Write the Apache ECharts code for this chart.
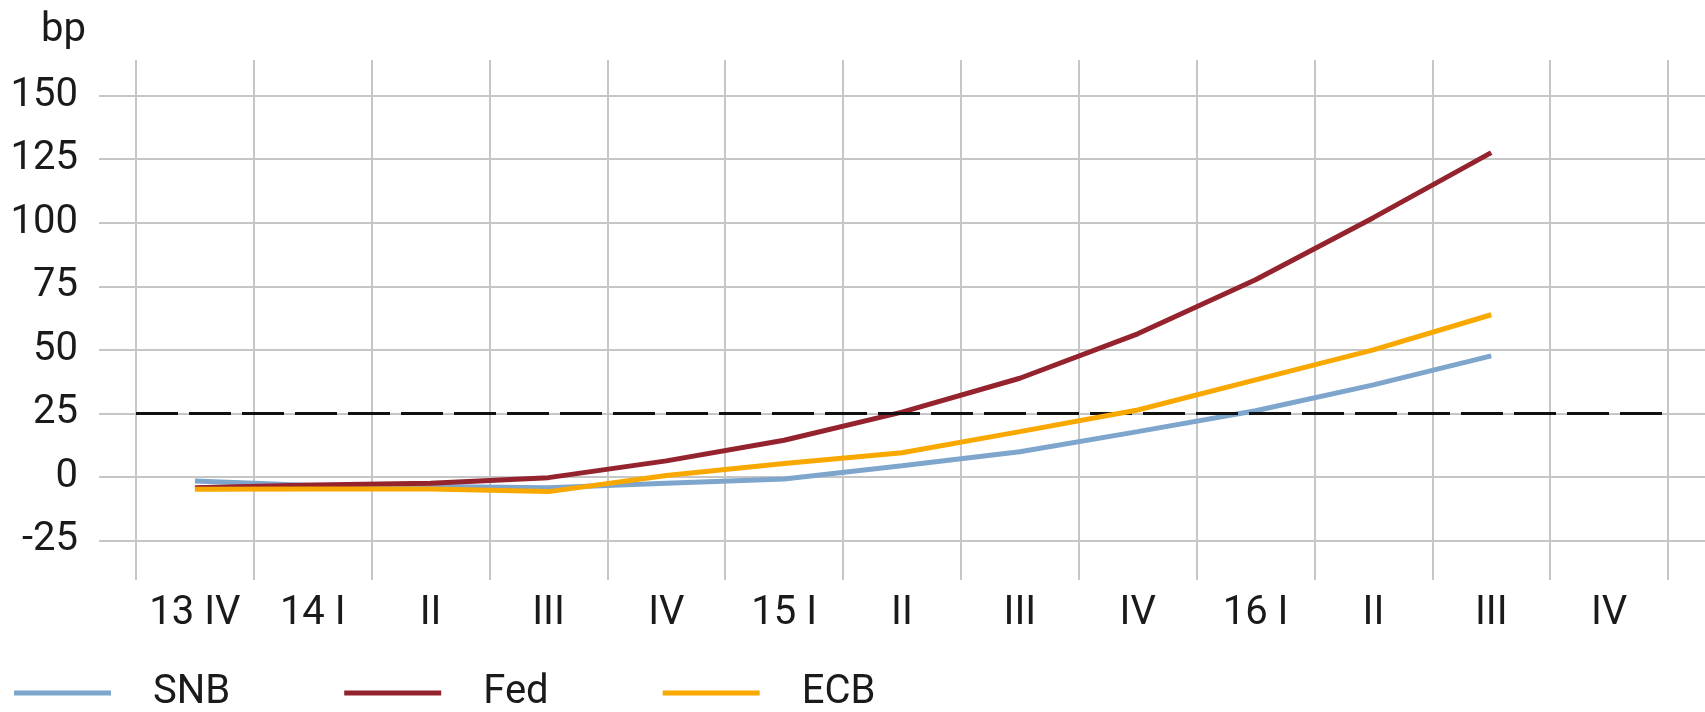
<!DOCTYPE html>
<html>
<head>
<meta charset="utf-8">
<script src="https://cdn.jsdelivr.net/npm/echarts@6/dist/echarts.min.js"></script>
<style>html,body{margin:0;padding:0;background:#fff}#c{width:1705px;height:712px}</style>
</head>
<body>
<div id="c"></div>
<script>
const categories = ['13 IV','14 I','II','III','IV','15 I','II','III','IV','16 I','II','III','IV'];
const snb = [-1.6, -3.4, -3.8, -4.3, -2.5, -0.8, 4.4, 9.9, 17.8, 26, 36.2, 47.6];
const fed = [-4.3, -3.2, -2.5, -0.3, 6.3, 14.4, 25.5, 38.8, 56.3, 77.6, 102, 127.6];
const ecb = [-4.9, -4.8, -4.8, -5.8, 0.5, 5.3, 9.5, 17.8, 26.3, 38.2, 50, 63.8];
const yTicks = {min: -25, max: 150, step: 25};
const refLine = 25;

const W = 1705, H = 712;
const yTopPx = 95.7, yBotPx = 540.4;     // pixel rows of max / min tick
const plotTop = 60, plotBot = 580;        // vertical gridline extent
const ppu = (yBotPx - yTopPx) / (yTicks.max - yTicks.min);
const y1max = yTicks.max + (yTopPx - plotTop) / ppu;
const y1min = yTicks.min - (plotBot - yBotPx) / ppu;

const FONT = 'Roboto, "Liberation Sans", sans-serif';
const GRID = '#c6c6c6';
const TXT = '#1a1a1a';
const FW = 'normal';

const chart = echarts.init(document.getElementById('c'), null, {renderer: 'canvas'});
chart.setOption({
  animation: false,
  backgroundColor: '#fff',
  textStyle: {fontFamily: FONT},
  title: {text: 'bp', left: 36, top: 6, textStyle: {fontFamily: FONT, fontSize: 40, fontWeight: FW, color: TXT}},
  legend: {
    left: 9, top: 668, itemWidth: 97, itemHeight: 5, itemGap: 114, icon: 'rect',
    textStyle: {fontFamily: FONT, fontSize: 40, fontWeight: FW, color: TXT, padding: [0, 0, 0, 37]},
    data: ['SNB', 'Fed', 'ECB']
  },
  grid: [
    {left: 99, right: 0, top: yTopPx, bottom: H - yBotPx},
    {left: 136, right: W - 1668, top: plotTop, bottom: H - plotBot}
  ],
  xAxis: [
    {type: 'value', gridIndex: 0, show: false, min: 0, max: 1},
    {type: 'category', gridIndex: 1, data: categories, boundaryGap: true,
     axisLine: {show: false}, axisTick: {show: false},
     splitLine: {show: true, interval: 0, lineStyle: {color: GRID, width: 2}},
     axisLabel: {interval: 0, margin: 14, fontFamily: FONT, fontSize: 40, fontWeight: FW, color: TXT}}
  ],
  yAxis: [
    {type: 'value', gridIndex: 0, min: yTicks.min, max: yTicks.max, interval: yTicks.step,
     axisLine: {show: false}, axisTick: {show: false},
     splitLine: {show: true, lineStyle: {color: GRID, width: 2}},
     axisLabel: {margin: 21, fontFamily: FONT, fontSize: 40, fontWeight: FW, color: TXT}},
    {type: 'value', gridIndex: 1, min: y1min, max: y1max, show: false, splitLine: {show: false}}
  ],
  series: [
    {name: 'SNB', type: 'line', xAxisIndex: 1, yAxisIndex: 1, data: snb, symbol: 'none',
     lineStyle: {width: 5, color: '#7ea6cc'}, itemStyle: {color: '#7ea6cc'}, z: 3,
     markLine: {silent: true, symbol: 'none', label: {show: false},
       lineStyle: {color: '#111', width: 3, type: [42, 11]},
       data: [{yAxis: refLine}]}},
    {name: 'Fed', type: 'line', xAxisIndex: 1, yAxisIndex: 1, data: fed, symbol: 'none',
     lineStyle: {width: 5, color: '#94232d'}, itemStyle: {color: '#94232d'}, z: 4},
    {name: 'ECB', type: 'line', xAxisIndex: 1, yAxisIndex: 1, data: ecb, symbol: 'none',
     lineStyle: {width: 5, color: '#f9a800'}, itemStyle: {color: '#f9a800'}, z: 5}
  ]
});
</script>
</body>
</html>
